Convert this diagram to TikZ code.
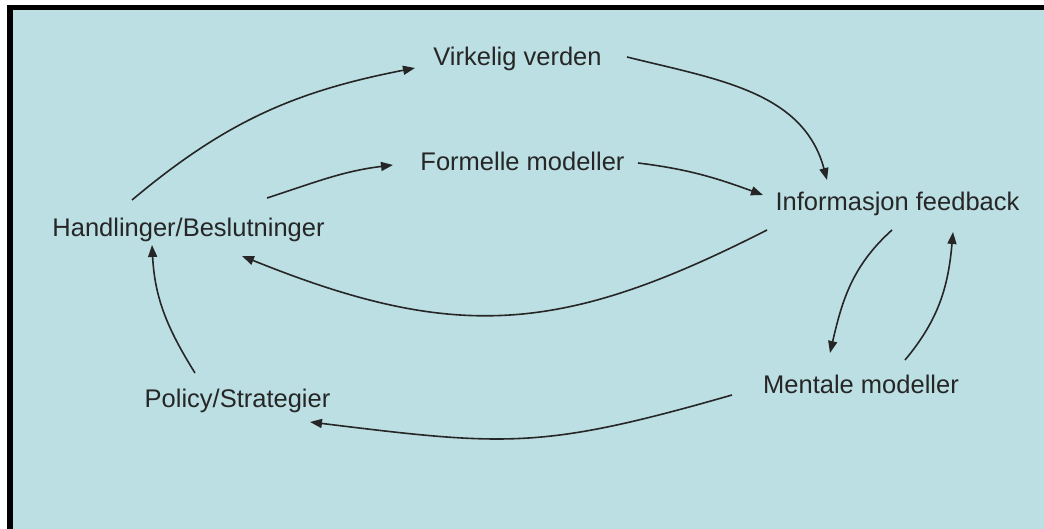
\documentclass[tikz,border=0pt]{standalone}
\usepackage{fontspec}
\setmainfont{Liberation Sans}
\usepackage{tikz}
\usetikzlibrary{arrows.meta}          % pointes de fleches
\definecolor{bleu}{RGB}{187,223,227}
\tikzset{
  tekst/.style={anchor=base,inner sep=0pt,text=black!85,font=\fontsize{25.5}{30}\selectfont},
  pil/.style={line width=1.6pt,draw=black!85,-{Triangle[length=12pt,width=9pt]}}
}
\begin{document}
\begin{tikzpicture}[x=1pt,y=1pt]
\useasboundingbox(0,0)rectangle(1044,529);
\fill[black](7,0)rectangle(1044,524);
\fill[bleu](13,0)rectangle(1044,519);
\node[tekst](vv)at(517.5,463){Virkelig verden};
\node[tekst](fm)at(522.5,358){Formelle modeller};
\node[tekst](inf)at(897.5,318){Informasjon feedback};
\node[tekst](hb)at(188.5,292){Handlinger/Beslutninger};
\node[tekst](ps)at(237.5,121){Policy/Strategier};
\node[tekst](mm)at(861,135){Mentale modeller};
\draw[pil]([shift={(-56.5,37)}]hb.base)to[out=40,in=191]([shift={(-102.5,-2)}]vv.base);
\draw[pil]([shift={(78.5,39)}]hb.base)to[out=18,in=187]([shift={(-129.5,6)}]fm.base);
\draw[pil]([shift={(115.5,8)}]fm.base)to[out=-7,in=160]([shift={(-134.5,16)}]inf.base);
\draw[pil]([shift={(109.5,9)}]vv.base)to[out=-14,in=105]([shift={(-70.5,31)}]inf.base);
\draw[pil]([shift={(-130.5,-19)}]inf.base)to[out=207,in=-22,looseness=1.12]([shift={(53.5,-19)}]hb.base);
\draw[pil]([shift={(-5.5,-19)}]inf.base)to[out=222,in=77]([shift={(-31,41)}]mm.base);
\draw[pil]([shift={(44,34)}]mm.base)to[out=50,in=-95]([shift={(55.5,-21)}]inf.base);
\draw[pil]([shift={(-129,-1)}]mm.base)to[out=196,in=-7,looseness=1.2]([shift={(72.5,-14)}]ps.base);
\draw[pil]([shift={(-42.5,35)}]ps.base)to[out=122,in=-87]([shift={(-36.5,-8)}]hb.base);
\end{tikzpicture}
\end{document}
